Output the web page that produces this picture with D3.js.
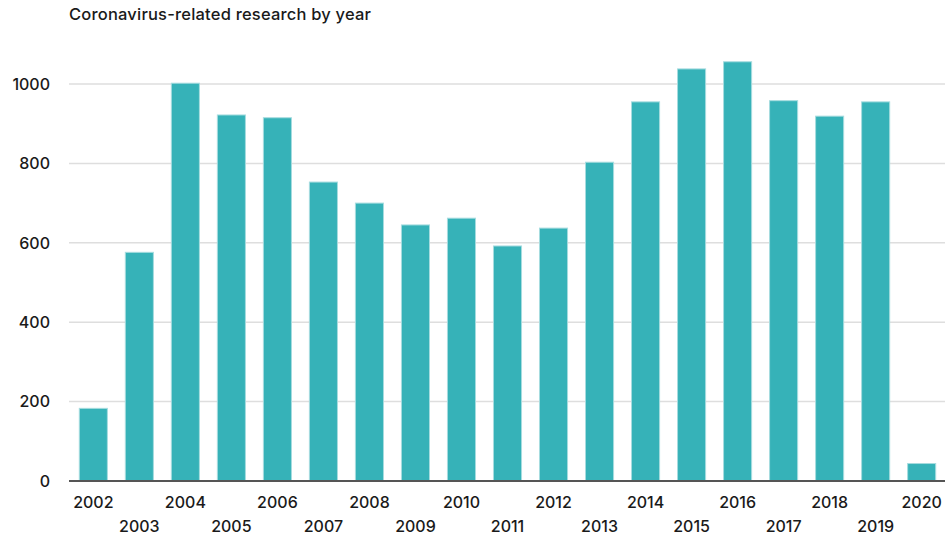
<!DOCTYPE html>
<html>
<head>
<meta charset="utf-8">
<script src="https://cdn.jsdelivr.net/npm/d3@7"></script>
<style>
	body { margin: 0; background: #fff; }
	text { font-family: Inter, "Noto Sans", sans-serif; fill: #1a1a1a; }
</style>
</head>
<body>
<svg width="945" height="537"></svg>
<script>
const years = ["2002", "2003", "2004", "2005", "2006", "2007", "2008", "2009", "2010", "2011",
	"2012", "2013", "2014", "2015", "2016", "2017", "2018", "2019", "2020"]
const papers = [183, 576, 1002, 922, 915, 753, 700, 645, 662, 592,
	637, 803, 955, 1038, 1056, 958, 919, 955, 44]
const yTicks = [0, 200, 400, 600, 800, 1000]

const svg = d3.select("svg"),
	width = +svg.attr("width"),
	height = +svg.attr("height");

const x = d3.scaleBand()
	.domain(years)
	.range([79.3, 935.7])
	.paddingInner(0.39)
	.paddingOuter(0)

const y = d3.scaleLinear()
	.domain([0, 1000])
	.range([481, 84])

// title
svg.append("text")
	.attr("x", 69)
	.attr("y", 20)
	.attr("font-size", 16.5)
	.attr("font-weight", 500)
	.attr("letter-spacing", 0.2)
	.text("Coronavirus-related research by year")

// grid lines
svg.append("g")
	.selectAll("line")
	.data(yTicks.filter(d => d > 0))
	.join("line")
	.attr("x1", 69)
	.attr("x2", width)
	.attr("y1", d => y(d))
	.attr("y2", d => y(d))
	.style("stroke", "#dedede")
	.style("stroke-width", 1.5)

// y labels
svg.append("g")
	.selectAll("text")
	.data(yTicks)
	.join("text")
	.attr("x", 50)
	.attr("y", d => y(d))
	.attr("dy", "0.36em")
	.attr("text-anchor", "end")
	.attr("font-size", 16)
	.attr("font-weight", 500)
	.text(d => d)

// bars
svg.append("g")
	.selectAll("rect")
	.data(papers)
	.join("rect")
	.attr("x", (d, i) => x(years[i]))
	.attr("y", d => y(d))
	.attr("width", x.bandwidth())
	.attr("height", d => y(0) - y(d))
	.attr("fill", "#36b2b8")
	.style("stroke", "#a6dcdf")
	.style("stroke-width", 1)

// baseline
svg.append("line")
	.attr("x1", 69)
	.attr("x2", width)
	.attr("y1", y(0))
	.attr("y2", y(0))
	.style("stroke", "#555")
	.style("stroke-width", 2)

// x labels, alternating rows
svg.append("g")
	.selectAll("text")
	.data(years)
	.join("text")
	.attr("x", d => x(d) + x.bandwidth() / 2)
	.attr("y", (d, i) => i % 2 == 0 ? 508 : 532)
	.attr("text-anchor", "middle")
	.attr("font-size", 16)
	.attr("font-weight", 500)
	.text(d => d)
</script>
</body>
</html>
